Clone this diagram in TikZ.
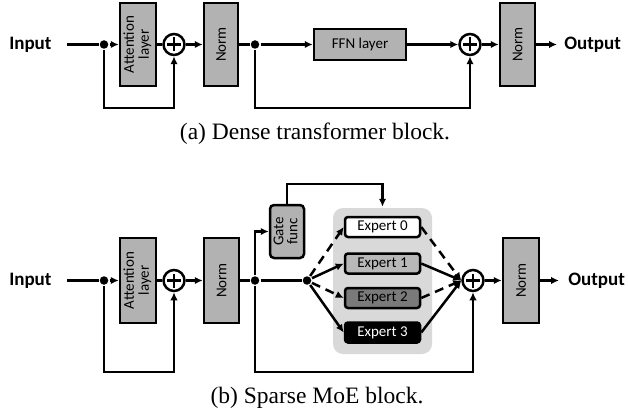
\documentclass[tikz,border=0pt]{standalone}
\usepackage{fontspec}
\usepackage{graphicx}
\setmainfont{Liberation Serif}
\newfontfamily\lblfont{Carlito}
\usetikzlibrary{arrows.meta,calc}
\begin{document}
\begin{tikzpicture}[x=1pt,y=-1pt,
  line width=2.5pt,
  >={Latex[length=8pt,width=7.5pt]},
  blk/.style={draw, line width=2.5pt, fill=black!30, inner sep=0pt, font=\lblfont\fontsize{15}{17}\selectfont, align=center},
  expert/.style={draw, line width=2.5pt, rounded corners=3pt, inner sep=0pt, minimum width=75pt, minimum height=20pt, font=\lblfont\fontsize{15}{17}\selectfont},
  plus/.style={circle, draw, line width=2.5pt, fill=white, minimum size=21pt, inner sep=0pt,
    path picture={\draw[line width=2.2pt] (path picture bounding box.center) ++(-7pt,0) -- ++(14pt,0)
      (path picture bounding box.center) ++(0,-7pt) -- ++(0,14pt);}},
  dot/.style={circle, fill=black, inner sep=0pt, minimum size=8.5pt},
  io/.style={font=\lblfont\bfseries\fontsize{19}{21}\selectfont, inner sep=0pt},
  captext/.style={font=\fontsize{23.5}{26}\selectfont, inner sep=0pt},
  dsh/.style={dash pattern=on 9pt off 6pt}
]
\useasboundingbox (0,0) rectangle (628,414);

% ---------- (a) Dense ----------
\node[io, anchor=west] (inA) at (8,44.5) {Input};
\coordinate (inAs) at (67,44.5);
\node[dot] (d1) at (104,44.5) {};
\node[blk, minimum width=36pt, minimum height=83pt] (att1) at (138,44.5) {\rotatebox{90}{\begin{tabular}{@{}c@{}}Attention\\[-2pt]layer\end{tabular}}};
\node[plus] (p1) at (174,44.5) {};
\node[blk, minimum width=34pt, minimum height=83pt] (n1) at (221,44.5) {\rotatebox{90}{Norm}};
\node[dot] (d2) at (255,44.5) {};
\node[blk, minimum width=92pt, minimum height=31pt] (ffn) at (360,44.5) {FFN layer};
\node[plus] (p2) at (470,44.5) {};
\node[blk, minimum width=35pt, minimum height=83pt] (n2) at (517.5,44.5) {\rotatebox{90}{Norm}};
\coordinate (outAe) at (557,44.5);
\node[io, anchor=west] (outA) at (563,44.5) {Output};

\draw (inAs) -- (d1);
\draw[->] (d1) -- (att1.west);
\draw (att1.east) -- (p1.west);
\draw[->] (p1.east) -- (n1.west);
\draw (n1.east) -- (d2);
\draw[->] (d2) -- (ffn.west);
\draw[->] (ffn.east) -- (p2.west);
\draw[->] (p2.east) -- (n2.west);
\draw[->] (n2.east) -- (outAe);
\coordinate (lA1) at (104,108);
\coordinate (lA2) at (255,108);
\draw[->] (d1) -- (lA1) -| (p1.south);
\draw[->] (d2) -- (lA2) -| (p2.south);

\node[captext] (capA) at (315,134) {(a) Dense transformer block.};

% ---------- (b) Sparse MoE ----------
\node[io, anchor=west] (inB) at (8,280.5) {Input};
\coordinate (inBs) at (67,280.5);
\node[dot] (d3) at (104,280.5) {};
\node[blk, minimum width=36pt, minimum height=85pt] (att2) at (138,280.5) {\rotatebox{90}{\begin{tabular}{@{}c@{}}Attention\\[-2pt]layer\end{tabular}}};
\node[plus] (p3) at (174,280.5) {};
\node[blk, minimum width=35pt, minimum height=85pt] (n3) at (221.5,280.5) {\rotatebox{90}{Norm}};
\node[dot] (d4) at (255,280.5) {};
\node[blk, rounded corners=4pt, minimum width=34pt, minimum height=53pt] (gate) at (287,231.5) {\rotatebox{90}{\begin{tabular}{@{}c@{}}Gate\\[-3pt]func\end{tabular}}};
\node[dot] (d5) at (307,280.5) {};

\node[fill=black!15, rounded corners=10pt, minimum width=99pt, minimum height=146pt, inner sep=0pt] (cont) at (382.5,281) {};
\node[expert, fill=white] (e0) at (382.5,227) {Expert 0};
\node[expert, fill=black!28] (e1) at (382.5,263.5) {Expert 1};
\node[expert, fill=black!52] (e2) at (382.5,298) {Expert 2};
\node[expert, fill=black, text=white] (e3) at (382.5,332.5) {Expert 3};

\node[plus] (p4) at (473,280.5) {};
\node[blk, minimum width=36pt, minimum height=85pt] (n4) at (521,280.5) {\rotatebox{90}{Norm}};
\coordinate (outBe) at (559,280.5);
\node[io, anchor=west] (outB) at (567,280.5) {Output};

\draw (inBs) -- (d3);
\draw[->] (d3) -- (att2.west);
\draw (att2.east) -- (p3.west);
\draw[->] (p3.east) -- (n3.west);
\draw (n3.east) -- (d4);
\draw (d4) -- (d5);
\draw[->] (d4) |- (gate.west);
\coordinate (gtop) at (287,184);
\draw[->] (gate.north) -- (gtop) -| (cont.north);

\draw[->, dsh] (d5) -- (e0.west);
\draw[->] (d5) -- (e1.west);
\draw[->, dsh] (d5) -- (e2.west);
\draw[->] (d5) -- (e3.west);
\draw[->, dsh] (e0.east) -- (p4.west);
\draw[->] (e1.east) -- (p4.west);
\draw[->, dsh] (e2.east) -- (p4.west);
\draw[->] (e3.east) -- (p4.west);

\draw[->] (p4.east) -- (n4.west);
\draw[->] (n4.east) -- (outBe);
\coordinate (lB1) at (104,372);
\coordinate (lB2) at (255,372);
\draw[->] (d3) -- (lB1) -| (p3.south);
\draw[->] (d4) -- (lB2) -| (p4.south);

\node[captext] (capB) at (317,398) {(b) Sparse MoE block.};
\end{tikzpicture}
\end{document}
